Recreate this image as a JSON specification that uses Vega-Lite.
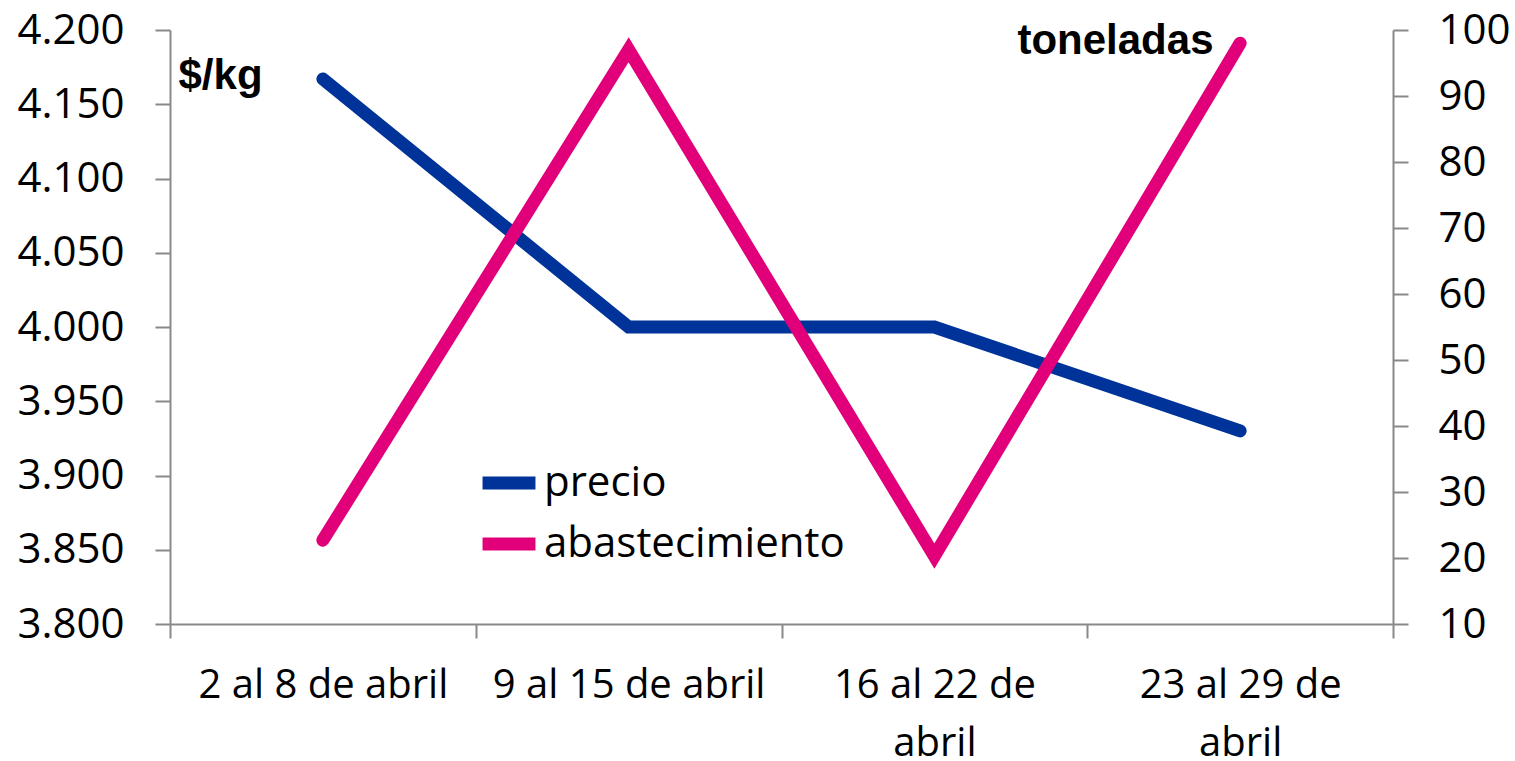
{
  "$schema": "https://vega.github.io/schema/vega-lite/v6.json",
  "width": 1223,
  "height": 594,
  "autosize": {"type": "none"},
  "padding": {"left": 170, "top": 30, "right": 122, "bottom": 137},
  "background": "white",
  "config": {
    "view": {"stroke": null},
    "font": "Open Sans"
  },
  "data": {
    "values": [
      {"semana": "2 al 8 de abril", "precio": 4167, "abastecimiento": 22.7},
      {"semana": "9 al 15 de abril", "precio": 4000, "abastecimiento": 97},
      {"semana": "16 al 22 de abril", "precio": 4000, "abastecimiento": 20.3},
      {"semana": "23 al 29 de abril", "precio": 3930, "abastecimiento": 98}
    ]
  },
  "encoding": {
    "x": {
      "field": "semana",
      "type": "nominal",
      "sort": null,
      "scale": {"type": "band", "paddingInner": 0, "paddingOuter": 0},
      "axis": {
        "title": null,
        "labelAngle": 0,
        "tickBand": "extent",
        "domainColor": "#898989",
        "domainWidth": 2,
        "tickColor": "#898989",
        "tickWidth": 2,
        "tickSize": 14,
        "labelFont": "Open Sans",
        "labelFontSize": 40,
        "labelColor": "black",
        "labelPadding": 27,
        "labelLineHeight": 58,
        "labelLimit": 0,
        "labelExpr": "datum.label == '16 al 22 de abril' ? ['16 al 22 de', 'abril'] : datum.label == '23 al 29 de abril' ? ['23 al 29 de', 'abril'] : datum.label"
      }
    },
    "color": {
      "type": "nominal",
      "scale": {"domain": ["precio", "abastecimiento"], "range": ["#003399", "#E2007A"]},
      "legend": {
        "title": null,
        "orient": "none",
        "legendX": 306,
        "legendY": 420,
        "padding": 0,
        "symbolType": "stroke",
        "symbolSize": 2800,
        "symbolStrokeWidth": 13,
        "labelFont": "Open Sans",
        "labelFontSize": 42,
        "labelColor": "black",
        "labelOffset": 2,
        "rowPadding": 2,
        "labelLimit": 500
      }
    }
  },
  "layer": [
    {
      "mark": {"type": "line", "strokeWidth": 13, "strokeCap": "round", "strokeJoin": "miter"},
      "encoding": {
        "y": {
          "field": "precio",
          "type": "quantitative",
          "scale": {"domain": [3800, 4200], "zero": false, "nice": false},
          "axis": {
            "orient": "left",
            "values": [3800, 3850, 3900, 3950, 4000, 4050, 4100, 4150, 4200],
            "labelExpr": "replace(format(datum.value, ','), ',', '.')",
            "grid": false,
            "domainColor": "#898989",
            "domainWidth": 2,
            "tickColor": "#898989",
            "tickWidth": 2,
            "tickSize": 15,
            "labelFont": "Open Sans",
            "labelFontSize": 42,
            "labelColor": "black",
            "labelPadding": 31,
            "title": "$/kg",
            "titleAngle": 0,
            "titleX": 8,
            "titleY": 45,
            "titleAlign": "left",
            "titleBaseline": "middle",
            "titleFont": "Liberation Sans",
            "titleFontWeight": "bold",
            "titleFontSize": 42,
            "titleColor": "black"
          }
        },
        "color": {"datum": "precio"}
      }
    },
    {
      "mark": {"type": "line", "strokeWidth": 13, "strokeCap": "round", "strokeJoin": "miter"},
      "encoding": {
        "y": {
          "field": "abastecimiento",
          "type": "quantitative",
          "scale": {"domain": [10, 100], "zero": false, "nice": false},
          "axis": {
            "orient": "right",
            "values": [10, 20, 30, 40, 50, 60, 70, 80, 90, 100],
            "grid": false,
            "domainColor": "#898989",
            "domainWidth": 2,
            "tickColor": "#898989",
            "tickWidth": 2,
            "tickSize": 15,
            "labelFont": "Open Sans",
            "labelFontSize": 42,
            "labelColor": "black",
            "labelPadding": 30,
            "title": "toneladas",
            "titleAngle": 0,
            "titleX": -180,
            "titleY": 10,
            "titleAlign": "right",
            "titleBaseline": "middle",
            "titleFont": "Liberation Sans",
            "titleFontWeight": "bold",
            "titleFontSize": 42,
            "titleColor": "black"
          }
        },
        "color": {"datum": "abastecimiento"}
      }
    }
  ],
  "resolve": {"scale": {"y": "independent"}}
}
